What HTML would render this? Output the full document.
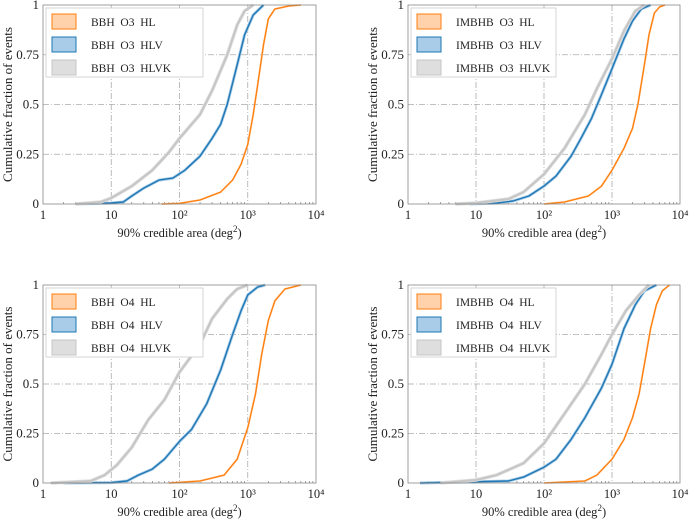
<!DOCTYPE html>
<html><head><meta charset="utf-8"><style>
html,body{margin:0;padding:0;background:#fff;}
svg{display:block;}
text{font-family:"Liberation Serif","Times New Roman",serif;}
</style></head><body>
<svg id="fig" width="690" height="524" viewBox="0 0 690 524"></svg>
<script>
const xTicks=[1,10,100,1000,10000];
const xTickLabels=["1","10","10²","10³","10⁴"];
const yTicks=[0,0.25,0.5,0.75,1];
const yTickLabels=["0","0.25","0.5","0.75","1"];
const panelTitles=["BBH  O3","IMBHB  O3","BBH  O4","IMBHB  O4"];
const seriesNames=["HL","HLV","HLVK"];
// panel 1 BBH O3
const p1HLx=[55,100,200,400,600,800,1000,1200,1400,1700,2000,2500,4000,6000];
const p1HLy=[0,0.003,0.02,0.06,0.12,0.2,0.3,0.45,0.6,0.8,0.93,0.98,0.995,1];
const p1HLVx=[3,10,15,20,30,50,80,120,200,300,400,500,700,900,1200,1700];
const p1HLVy=[0,0.005,0.01,0.04,0.08,0.12,0.13,0.17,0.24,0.33,0.4,0.5,0.7,0.85,0.95,1];
const p1HLVKx=[3,7,10,20,40,70,100,200,300,500,700,900,1200];
const p1HLVKy=[0,0.01,0.03,0.09,0.17,0.26,0.33,0.45,0.57,0.75,0.9,0.97,1];
// panel 2 IMBHB O3
const p2HLx=[100,200,450,700,1000,1500,2000,2400,3000,3500,4200,5000,6000];
const p2HLy=[0,0.01,0.04,0.09,0.17,0.28,0.38,0.5,0.7,0.85,0.96,0.99,1];
const p2HLVx=[8,20,35,60,100,150,250,350,500,700,1000,1500,2000,2700,3700];
const p2HLVy=[0,0.005,0.015,0.04,0.09,0.14,0.24,0.33,0.43,0.55,0.68,0.83,0.92,0.98,1];
const p2HLVKx=[5,10,30,50,100,200,400,600,1000,1500,2200,3000];
const p2HLVKy=[0,0.005,0.025,0.06,0.15,0.28,0.45,0.58,0.73,0.87,0.97,1];
// panel 3 BBH O4
const p3HLx=[70,200,450,700,1000,1300,1600,2000,2500,3500,6000];
const p3HLy=[0,0.01,0.04,0.12,0.28,0.45,0.65,0.82,0.92,0.98,1];
const p3HLVx=[2,10,17,25,40,60,100,150,250,400,600,800,1000,1400,1800];
const p3HLVy=[0,0.002,0.01,0.04,0.07,0.12,0.21,0.27,0.4,0.57,0.75,0.87,0.95,0.99,1];
const p3HLVKx=[1.3,5,8,12,20,35,60,100,200,300,500,700,1000];
const p3HLVKy=[0,0.01,0.04,0.09,0.18,0.32,0.42,0.56,0.7,0.83,0.93,0.98,1];
// panel 4 IMBHB O4
const p4HLx=[100,400,600,1000,1500,2000,2500,3000,3700,4500,5500,7000];
const p4HLy=[0,0.01,0.04,0.12,0.22,0.33,0.45,0.6,0.78,0.9,0.97,1];
const p4HLVx=[1.5,30,50,100,150,250,400,700,1000,1500,2200,3000,4500];
const p4HLVy=[0,0.01,0.03,0.08,0.12,0.22,0.33,0.48,0.6,0.78,0.9,0.97,1];
const p4HLVKx=[3,10,20,50,100,200,400,700,1000,1600,2500,3500];
const p4HLVKy=[0,0.015,0.04,0.1,0.2,0.35,0.5,0.65,0.75,0.87,0.95,1];

const panelData=[
 [[p1HLx,p1HLy],[p1HLVx,p1HLVy],[p1HLVKx,p1HLVKy]],
 [[p2HLx,p2HLy],[p2HLVx,p2HLVy],[p2HLVKx,p2HLVKy]],
 [[p3HLx,p3HLy],[p3HLVx,p3HLVy],[p3HLVKx,p3HLVKy]],
 [[p4HLx,p4HLy],[p4HLVx,p4HLVy],[p4HLVKx,p4HLVKy]]];
const boxes=[{l:43,r:316,t:5,b:204},{l:408,r:680,t:5,b:204},{l:43,r:316,t:285,b:483},{l:408,r:680,t:285,b:483}];
const bandCol=["#ffd2ab","#a9cde8","#dedede"];
const lineCol=["#ff7f0e","#1f77b4","#c6c6c6"];
const lineW=[1.3,1.4,2];
const bandW=[2,3,3.5];
const FONT='"Liberation Serif", "Times New Roman", serif';

const NS="http://www.w3.org/2000/svg";
const svg=document.getElementById('fig');
function mk(tag,attrs,parent){const e=document.createElementNS(NS,tag);for(const k in attrs)e.setAttribute(k,attrs[k]);if(tag==='text')e.setAttribute('font-family',FONT);(parent||svg).appendChild(e);return e;}

boxes.forEach((B,pi)=>{
 const g=mk('g',{});
 
 
 const xs=v=>B.l+(Math.log10(v)/4)*(B.r-B.l);
 const ys=v=>B.b-v*(B.b-B.t);
 xTicks.slice(1,4).forEach(t=>{const l=mk('line',{x1:xs(t),x2:xs(t),y1:B.t,y2:B.b,stroke:'#aaa','stroke-width':0.8,'stroke-dasharray':'6,2,1,2'},g);
  });
 yTicks.slice(1,4).forEach(t=>{const l=mk('line',{x1:B.l,x2:B.r,y1:ys(t),y2:ys(t),stroke:'#aaa','stroke-width':0.8,'stroke-dasharray':'6,2,1,2'},g);
  });
 for(let d=0;d<4;d++)for(let m=2;m<10;m++){const x=xs(m*Math.pow(10,d));
  const t=mk('line',{x1:x,x2:x,y1:B.b,y2:B.b-2,stroke:'#666','stroke-width':0.6},g);
  }
 panelData[pi].forEach((s,si)=>{
  const pts=s[0].map((v,i)=>xs(v).toFixed(1)+','+ys(s[1][i]).toFixed(1)).join(' ');
  const band=mk('polyline',{points:pts,fill:'none',stroke:bandCol[si],'stroke-width':bandW[si],'stroke-linejoin':'round'},g);
  
  
  const ln=mk('polyline',{points:pts,fill:'none',stroke:lineCol[si],'stroke-width':lineW[si],'stroke-linejoin':'round'},g);
  
  
 });
 const fr=mk('rect',{x:B.l,y:B.t,width:B.r-B.l,height:B.b-B.t,fill:'none',stroke:'#888','stroke-width':0.8},g);
 
 xTicks.forEach((t,i)=>{const tx=mk('text',{x:xs(t),y:B.b+15,'text-anchor':'middle','font-size':12.5,fill:'#222'},g);
  tx.textContent=xTickLabels[i];});
 yTicks.forEach((t,i)=>{const tx=mk('text',{x:B.l-4,y:ys(t)+4,'text-anchor':'end','font-size':13,fill:'#222'},g);
  tx.textContent=yTickLabels[i];});
 const xt=mk('text',{x:(B.l+B.r)/2,y:B.b+33,'text-anchor':'middle','font-size':12.5,fill:'#222'},g);
 xt.innerHTML='90% credible area (deg<tspan dy="-5" font-size="9">2</tspan><tspan dy="5">)</tspan>';
 
 const yx=B.l-31, yc=(B.t+B.b)/2;
 const yt=mk('text',{x:yx,y:yc,'text-anchor':'middle','font-size':13,fill:'#222',transform:`rotate(-90 ${yx} ${yc})`},g);
 yt.textContent='Cumulative fraction of events';
 
 const lg=mk('g',{},g);
 
 const lw=pi%2===0?157:145;
 mk('rect',{x:B.l+3,y:B.t+3,width:lw,height:69,fill:'#fff',stroke:'#ccc','stroke-width':0.8},lg);
 seriesNames.forEach((n,si)=>{
  const yy=B.t+9+si*23;
  const e=mk('g',{},lg);
  
  
  mk('rect',{x:B.l+9,y:yy,width:24,height:15,fill:bandCol[si],stroke:lineCol[si],'stroke-width':1},e);
  const tx=mk('text',{x:B.l+48,y:yy+12,'font-size':11.5,fill:'#222'},e);
  tx.textContent=panelTitles[pi].replace('  ','\u00a0\u00a0')+'\u00a0\u00a0'+n;
 });
});
</script>
</body></html>
